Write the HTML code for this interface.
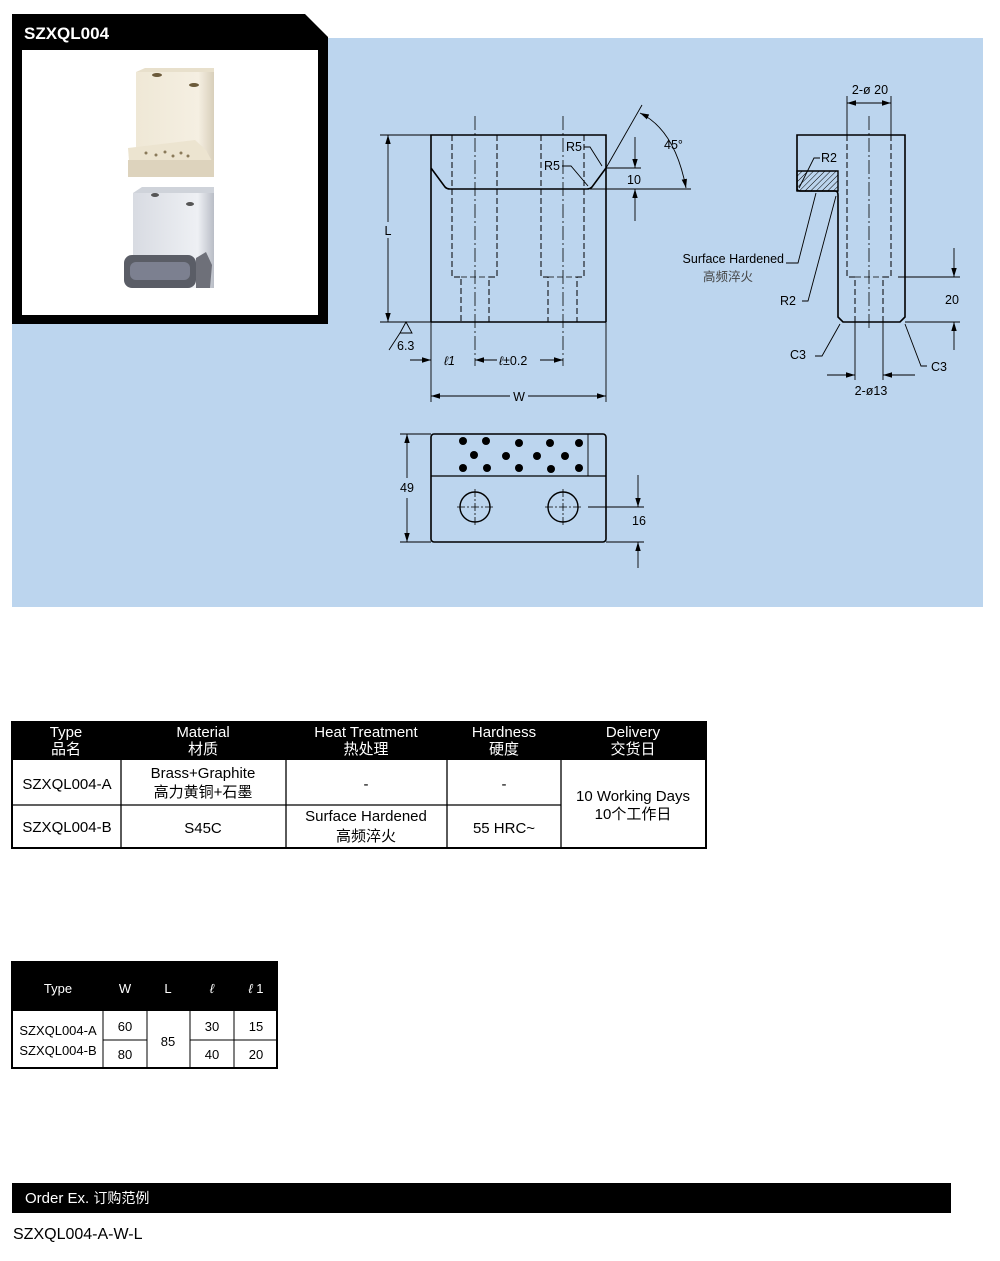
<!DOCTYPE html>
<html><head><meta charset="utf-8"><style>
html,body{margin:0;padding:0;background:#fff;}
body{width:1000px;height:1261px;position:relative;overflow:hidden;font-family:"Liberation Sans","Noto Sans CJK SC",sans-serif;}
svg{position:absolute;left:0;top:0;}
</style></head><body>
<svg width="1000" height="1261" viewBox="0 0 1000 1261" font-family="Liberation Sans, Noto Sans CJK SC, sans-serif">
<defs>
<marker id="a" viewBox="0 0 10 10" refX="10" refY="5" markerWidth="9" markerHeight="9" orient="auto-start-reverse" markerUnits="userSpaceOnUse"><path d="M0,2 L10,5 L0,8 z" fill="#000"/></marker>
<pattern id="h" width="4" height="4" patternUnits="userSpaceOnUse" patternTransform="rotate(45)"><line x1="0" y1="0" x2="0" y2="4" stroke="#000" stroke-width="1"/></pattern>
<linearGradient id="g1" x1="0" x2="1"><stop offset="0" stop-color="#efe8d6"/><stop offset=".8" stop-color="#f5efe2"/><stop offset="1" stop-color="#d8cfba"/></linearGradient>
<linearGradient id="g2" x1="0" x2="1"><stop offset="0" stop-color="#d8dbe2"/><stop offset=".8" stop-color="#eef0f4"/><stop offset="1" stop-color="#b9bdc6"/></linearGradient>
</defs>
<rect x="12" y="38" width="971" height="569" fill="#bcd5ee"/>
<path d="M12,14 H305 L328,37 V324 H12 Z" fill="#000"/>
<rect x="22" y="50" width="296" height="265" fill="#fff"/>
<text x="24" y="39" fill="#fff" font-size="17" font-weight="bold">SZXQL004</text>
<rect x="136" y="72" width="78" height="100" fill="url(#g1)"/>
<polygon points="136,72 145,68 214,68 214,72" fill="#e8e0cc"/>
<polygon points="128,148 195,140 206,150 214,165 214,177 130,174" fill="#ece4d0"/>
<rect x="128" y="160" width="86" height="17" fill="#ddd3bd"/>
<ellipse cx="157" cy="75" rx="5" ry="2" fill="#6b5a3a"/><ellipse cx="194" cy="85" rx="5" ry="2" fill="#6b5a3a"/>
<g fill="#8a7a5a"><circle cx="146" cy="153" r="1.5"/><circle cx="156" cy="155" r="1.5"/><circle cx="165" cy="152" r="1.5"/><circle cx="173" cy="156" r="1.5"/><circle cx="181" cy="153" r="1.5"/><circle cx="188" cy="156" r="1.5"/></g>
<rect x="133" y="193" width="81" height="95" fill="url(#g2)"/>
<polygon points="133,193 142,187 214,187 214,193" fill="#cfd3da"/>
<ellipse cx="155" cy="195" rx="4" ry="2" fill="#555"/><ellipse cx="190" cy="204" rx="4" ry="2" fill="#555"/>
<rect x="124" y="255" width="72" height="33" rx="8" fill="#5a5d66"/>
<rect x="130" y="262" width="60" height="18" rx="6" fill="#7c8090"/>
<polygon points="196,258 206,252 212,265 210,288 196,288" fill="#6e7079"/>

<g fill="none" stroke="#000" stroke-width="1.6">
<path d="M431,322 V135 H606 V168 L592,187 Q590,189 587,189 H450 Q447,189 445,187 L431,168"/>
<line x1="606" y1="168" x2="606" y2="322"/>
<line x1="431" y1="322" x2="606" y2="322"/>
</g>
<g fill="none" stroke="#000" stroke-width="1" stroke-dasharray="6,3">
<path d="M452,135 V277 H461 V322 M497,135 V277 H489 V322 M541,135 V277 H548 V322 M584,135 V277 H577 V322"/>
<path d="M847,135 V277 H855 V322 M891,135 V277 H883 V322"/>
</g>
<g fill="none" stroke="#000" stroke-width="0.8" stroke-dasharray="14,3,2,3">
<line x1="475" y1="116" x2="475" y2="366"/><line x1="563" y1="116" x2="563" y2="366"/>
<line x1="869" y1="116" x2="869" y2="330"/>
</g>
<line x1="461" y1="277" x2="489" y2="277" stroke="#000" stroke-width="0.8" stroke-dasharray="6,3"/>
<line x1="548" y1="277" x2="577" y2="277" stroke="#000" stroke-width="0.8" stroke-dasharray="6,3"/>
<line x1="855" y1="277" x2="883" y2="277" stroke="#000" stroke-width="0.8" stroke-dasharray="6,3"/>

<g fill="none" stroke="#000" stroke-width="0.9">
<line x1="380" y1="135" x2="431" y2="135"/><line x1="380" y1="322" x2="431" y2="322"/>
<line x1="388" y1="135" x2="388" y2="222" marker-start="url(#a)"/><line x1="388" y1="238" x2="388" y2="322" marker-end="url(#a)"/>
<path d="M400,333 L406,322 L412,333 Z M400,333 L389,350"/>
<line x1="410" y1="360" x2="431" y2="360" marker-end="url(#a)"/>
<line x1="475" y1="360" x2="497" y2="360" marker-start="url(#a)"/>
<line x1="540" y1="360" x2="563" y2="360" marker-end="url(#a)"/>
<line x1="431" y1="322" x2="431" y2="402"/><line x1="606" y1="322" x2="606" y2="402"/>
<line x1="431" y1="396" x2="510" y2="396" marker-start="url(#a)"/><line x1="528" y1="396" x2="606" y2="396" marker-end="url(#a)"/>
<line x1="606" y1="168" x2="641" y2="168"/><line x1="590" y1="189" x2="691" y2="189"/>
<line x1="635" y1="137" x2="635" y2="168" marker-end="url(#a)"/><line x1="635" y1="221" x2="635" y2="189" marker-end="url(#a)"/>
<line x1="606" y1="168" x2="642" y2="105"/>
<path d="M640,113 Q675,130 686,188" marker-start="url(#a)" marker-end="url(#a)"/>
<path d="M584,147 H590 L602,166"/><path d="M562,166 H571 L588,186"/>
</g>

<path d="M797,191 V135 H905 V317 L900,322 H843 L838,317 V195 Q838,191 835,191 H800 Q797,191 797,188" fill="none" stroke="#000" stroke-width="1.6"/>
<path d="M797,171 H838 V191 H797 Z" fill="url(#h)" stroke="#000" stroke-width="1.4"/>
<g fill="none" stroke="#000" stroke-width="0.9">
<line x1="847" y1="96" x2="847" y2="135"/><line x1="891" y1="96" x2="891" y2="135"/>
<line x1="847" y1="103" x2="891" y2="103" marker-start="url(#a)" marker-end="url(#a)"/>
<line x1="855" y1="322" x2="855" y2="380"/><line x1="883" y1="322" x2="883" y2="380"/>
<line x1="827" y1="375" x2="855" y2="375" marker-end="url(#a)"/><line x1="915" y1="375" x2="883" y2="375" marker-end="url(#a)"/>
<line x1="898" y1="277" x2="960" y2="277"/><line x1="905" y1="322" x2="960" y2="322"/>
<line x1="954" y1="248" x2="954" y2="277" marker-end="url(#a)"/><line x1="954" y1="350" x2="954" y2="322" marker-end="url(#a)"/>
<path d="M820,158 H814 L799,188"/>
<path d="M786,263 H798 L816,193"/>
<path d="M802,301 H808 L836,196"/>
<path d="M815,356 H822 L840,324"/>
<path d="M927,366 H921 L905,324"/>
</g>

<rect x="431" y="434" width="175" height="108" rx="3" fill="none" stroke="#000" stroke-width="1.6"/>
<line x1="431" y1="476" x2="606" y2="476" stroke="#000" stroke-width="1.3"/>
<line x1="588" y1="434" x2="588" y2="476" stroke="#000" stroke-width="0.9"/>
<g fill="#000">
<circle cx="463" cy="441" r="4"/><circle cx="486" cy="441" r="4"/><circle cx="519" cy="443" r="4"/><circle cx="550" cy="443" r="4"/><circle cx="579" cy="443" r="4"/>
<circle cx="474" cy="455" r="4"/><circle cx="506" cy="456" r="4"/><circle cx="537" cy="456" r="4"/><circle cx="565" cy="456" r="4"/>
<circle cx="463" cy="468" r="4"/><circle cx="487" cy="468" r="4"/><circle cx="519" cy="468" r="4"/><circle cx="551" cy="469" r="4"/><circle cx="579" cy="468" r="4"/>
</g>
<g fill="none" stroke="#000">
<circle cx="475" cy="507" r="15" stroke-width="1.4"/><circle cx="563" cy="507" r="15" stroke-width="1.4"/>
<path d="M457,507 H493 M475,489 V525 M545,507 H581 M563,489 V525" stroke-width="0.8" stroke-dasharray="8,2,2,2"/>
<line x1="588" y1="507" x2="644" y2="507" stroke-width="0.9"/><line x1="606" y1="542" x2="644" y2="542" stroke-width="0.9"/>
<line x1="638" y1="475" x2="638" y2="507" stroke-width="0.9" marker-end="url(#a)"/><line x1="638" y1="568" x2="638" y2="542" stroke-width="0.9" marker-end="url(#a)"/>
<line x1="400" y1="434" x2="431" y2="434" stroke-width="0.9"/><line x1="400" y1="542" x2="431" y2="542" stroke-width="0.9"/>
<line x1="407" y1="434" x2="407" y2="478" stroke-width="0.9" marker-start="url(#a)"/><line x1="407" y1="498" x2="407" y2="542" stroke-width="0.9" marker-end="url(#a)"/>
</g>

<g font-size="12.5" fill="#000">
<text x="388" y="235" text-anchor="middle">L</text>
<text x="397" y="350">6.3</text>
<text x="444" y="365" font-style="italic">ℓ1</text>
<text x="499" y="365" font-style="italic">ℓ<tspan font-style="normal">±0.2</tspan></text>
<text x="519" y="401" text-anchor="middle">W</text>
<text x="627" y="184">10</text>
<text x="664" y="149">45°</text>
<text x="566" y="151">R5</text>
<text x="544" y="170">R5</text>
<text x="870" y="94" text-anchor="middle">2-ø 20</text>
<text x="821" y="162">R2</text>
<text x="784" y="263" text-anchor="end">Surface Hardened</text>
<text x="728" y="281" text-anchor="middle" fill="#444">高频淬火</text>
<text x="780" y="305">R2</text>
<text x="945" y="304">20</text>
<text x="790" y="359">C3</text>
<text x="931" y="371">C3</text>
<text x="871" y="395" text-anchor="middle">2-ø13</text>
<text x="400" y="492">49</text>
<text x="632" y="525">16</text>
</g>

<rect x="12" y="722" width="694" height="38" fill="#000"/>
<rect x="12" y="722" width="694" height="126" fill="none" stroke="#000" stroke-width="2"/>
<g stroke="#000" stroke-width="1.3">
<line x1="121" y1="760" x2="121" y2="848"/><line x1="286" y1="760" x2="286" y2="848"/><line x1="447" y1="760" x2="447" y2="848"/><line x1="561" y1="760" x2="561" y2="848"/>
<line x1="12" y1="805" x2="561" y2="805"/>
</g>
<g font-size="15" text-anchor="middle" fill="#fff">
<text x="66" y="737">Type</text><text x="66" y="754">品名</text>
<text x="203" y="737">Material</text><text x="203" y="754">材质</text>
<text x="366" y="737">Heat Treatment</text><text x="366" y="754">热处理</text>
<text x="504" y="737">Hardness</text><text x="504" y="754">硬度</text>
<text x="633" y="737">Delivery</text><text x="633" y="754">交货日</text>
</g>
<g font-size="15" text-anchor="middle" fill="#000">
<text x="67" y="789">SZXQL004-A</text>
<text x="203" y="778">Brass+Graphite</text><text x="203" y="797">高力黄铜+石墨</text>
<text x="366" y="789">-</text><text x="504" y="789">-</text>
<text x="67" y="832">SZXQL004-B</text>
<text x="203" y="833">S45C</text>
<text x="366" y="821">Surface Hardened</text><text x="366" y="841">高频淬火</text>
<text x="504" y="833">55 HRC~</text>
<text x="633" y="801">10 Working Days</text><text x="633" y="819">10个工作日</text>
</g>

<rect x="12" y="962" width="265" height="49" fill="#000"/>
<rect x="12" y="962" width="265" height="106" fill="none" stroke="#000" stroke-width="2"/>
<g stroke="#000" stroke-width="1">
<line x1="103" y1="1011" x2="103" y2="1068"/><line x1="147" y1="1011" x2="147" y2="1068"/><line x1="190" y1="1011" x2="190" y2="1068"/><line x1="234" y1="1011" x2="234" y2="1068"/>
<line x1="103" y1="1040" x2="147" y2="1040"/><line x1="190" y1="1040" x2="277" y2="1040"/>
</g>
<g font-size="13" text-anchor="middle" fill="#fff">
<text x="58" y="993">Type</text><text x="125" y="993">W</text><text x="168" y="993">L</text>
<text x="212" y="993" font-style="italic">ℓ</text><text x="256" y="993" font-style="italic">ℓ<tspan font-style="normal"> 1</tspan></text>
</g>
<g font-size="13" text-anchor="middle" fill="#000">
<text x="58" y="1035">SZXQL004-A</text><text x="58" y="1055">SZXQL004-B</text>
<text x="125" y="1031">60</text><text x="125" y="1059">80</text>
<text x="168" y="1046">85</text>
<text x="212" y="1031">30</text><text x="212" y="1059">40</text>
<text x="256" y="1031">15</text><text x="256" y="1059">20</text>
</g>

<rect x="12" y="1183" width="939" height="30" fill="#000"/>
<text x="25" y="1203" font-size="15" fill="#fff">Order Ex. <tspan font-size="14">订购范例</tspan></text>
<text x="13" y="1239" font-size="16" fill="#000">SZXQL004-A-W-L</text>
</svg>
</body></html>
